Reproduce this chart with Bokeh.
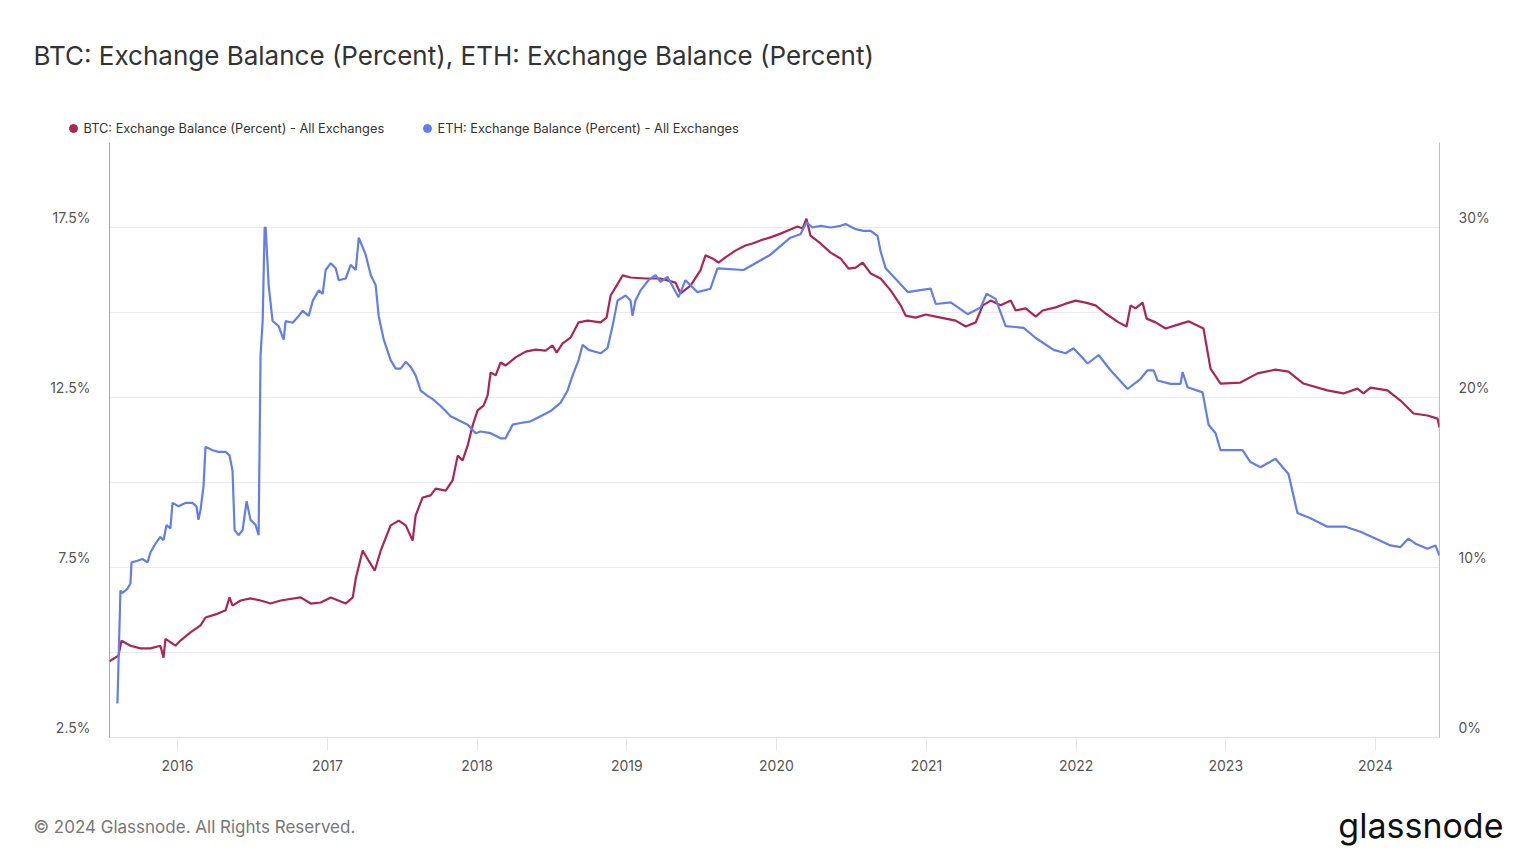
import pandas as pd
from bokeh.plotting import figure
from bokeh.layouts import column
from bokeh.models import (Range1d, LinearAxis, FixedTicker, PrintfTickFormatter,
                          DatetimeTickFormatter, Label, ColumnDataSource)
from bokeh.embed import file_html
from bokeh.resources import INLINE

# ---------------- data ----------------
btc_year = [2015.546, 2015.606, 2015.626, 2015.686, 2015.753, 2015.820, 2015.886, 2015.907, 2015.920, 2015.987,
            2016.020, 2016.087, 2016.154, 2016.187, 2016.254, 2016.321, 2016.347, 2016.367, 2016.421, 2016.487,
            2016.554, 2016.621, 2016.688, 2016.821, 2016.888, 2016.955, 2017.022, 2017.122, 2017.169, 2017.189,
            2017.235, 2017.275, 2017.316, 2017.356, 2017.422, 2017.476, 2017.523, 2017.569, 2017.589, 2017.636,
            2017.689, 2017.723, 2017.790, 2017.836, 2017.870, 2017.903, 2017.937, 2017.970, 2018.003, 2018.043,
            2018.070, 2018.090, 2018.124, 2018.157, 2018.190, 2018.257, 2018.324, 2018.391, 2018.457, 2018.504,
            2018.531, 2018.571, 2018.624, 2018.678, 2018.738, 2018.825, 2018.865, 2018.892, 2018.932, 2018.972,
            2019.025, 2019.125, 2019.225, 2019.326, 2019.359, 2019.426, 2019.492, 2019.526, 2019.573, 2019.613,
            2019.659, 2019.726, 2019.793, 2019.840, 2019.893, 2019.960, 2020.027, 2020.093, 2020.140, 2020.174,
            2020.200, 2020.227, 2020.294, 2020.361, 2020.427, 2020.481, 2020.528, 2020.574, 2020.628, 2020.694,
            2020.761, 2020.828, 2020.861, 2020.928, 2020.995, 2021.062, 2021.129, 2021.195, 2021.262, 2021.329,
            2021.376, 2021.429, 2021.496, 2021.563, 2021.596, 2021.663, 2021.730, 2021.776, 2021.863, 2021.930,
            2021.997, 2022.063, 2022.130, 2022.197, 2022.284, 2022.337, 2022.364, 2022.397, 2022.444, 2022.471,
            2022.531, 2022.598, 2022.664, 2022.751, 2022.851, 2022.898, 2022.965, 2023.098, 2023.212, 2023.332,
            2023.419, 2023.519, 2023.679, 2023.786, 2023.880, 2023.920, 2023.967, 2024.080, 2024.167, 2024.254,
            2024.347, 2024.414, 2024.427]
btc_pct = [4.74, 4.91, 5.35, 5.20, 5.12, 5.12, 5.20, 4.85, 5.40, 5.20,
           5.35, 5.59, 5.80, 6.03, 6.12, 6.24, 6.62, 6.38, 6.53, 6.59,
           6.53, 6.44, 6.53, 6.62, 6.44, 6.47, 6.62, 6.44, 6.62, 7.18,
           8.00, 7.70, 7.41, 8.00, 8.74, 8.88, 8.74, 8.29, 9.03, 9.56,
           9.62, 9.82, 9.76, 10.06, 10.79, 10.65, 11.09, 11.68, 12.12, 12.26,
           12.56, 13.24, 13.15, 13.53, 13.44, 13.68, 13.85, 13.91, 13.88, 14.03,
           13.82, 14.09, 14.26, 14.71, 14.76, 14.71, 14.85, 15.50, 15.79, 16.09,
           16.03, 16.00, 16.00, 15.88, 15.56, 15.79, 16.24, 16.68, 16.59, 16.47,
           16.62, 16.82, 16.97, 17.03, 17.12, 17.21, 17.32, 17.44, 17.53, 17.47,
           17.76, 17.26, 17.03, 16.76, 16.59, 16.29, 16.32, 16.47, 16.15, 16.00,
           15.65, 15.21, 14.91, 14.85, 14.94, 14.88, 14.82, 14.76, 14.59, 14.71,
           15.21, 15.35, 15.21, 15.35, 15.06, 15.12, 14.88, 15.06, 15.15, 15.26,
           15.35, 15.29, 15.21, 14.97, 14.71, 14.59, 15.21, 15.12, 15.29, 14.82,
           14.71, 14.53, 14.62, 14.74, 14.53, 13.35, 12.91, 12.94, 13.21, 13.32,
           13.26, 12.91, 12.71, 12.62, 12.76, 12.62, 12.79, 12.71, 12.41, 12.03,
           11.97, 11.88, 11.62]

eth_year = [2015.599, 2015.619, 2015.633, 2015.666, 2015.686, 2015.693, 2015.733, 2015.766, 2015.800, 2015.820,
            2015.853, 2015.886, 2015.907, 2015.927, 2015.953, 2015.967, 2016.007, 2016.053, 2016.100, 2016.127,
            2016.140, 2016.154, 2016.174, 2016.187, 2016.234, 2016.274, 2016.321, 2016.347, 2016.367, 2016.381,
            2016.407, 2016.434, 2016.461, 2016.487, 2016.521, 2016.541, 2016.554, 2016.568, 2016.581, 2016.588,
            2016.608, 2016.634, 2016.674, 2016.708, 2016.721, 2016.768, 2016.808, 2016.835, 2016.875, 2016.902,
            2016.942, 2016.968, 2016.988, 2017.022, 2017.055, 2017.075, 2017.122, 2017.155, 2017.189, 2017.209,
            2017.255, 2017.289, 2017.322, 2017.342, 2017.376, 2017.422, 2017.456, 2017.489, 2017.523, 2017.556,
            2017.589, 2017.623, 2017.669, 2017.703, 2017.756, 2017.823, 2017.890, 2017.937, 2017.990, 2018.023,
            2018.090, 2018.157, 2018.190, 2018.237, 2018.290, 2018.357, 2018.424, 2018.491, 2018.558, 2018.604,
            2018.638, 2018.678, 2018.705, 2018.745, 2018.825, 2018.871, 2018.905, 2018.938, 2018.992, 2019.025,
            2019.038, 2019.058, 2019.092, 2019.145, 2019.192, 2019.225, 2019.272, 2019.346, 2019.392, 2019.472,
            2019.559, 2019.606, 2019.780, 2019.960, 2020.093, 2020.160, 2020.200, 2020.240, 2020.294, 2020.361,
            2020.427, 2020.461, 2020.528, 2020.581, 2020.628, 2020.674, 2020.694, 2020.728, 2020.781, 2020.875,
            2020.948, 2021.028, 2021.062, 2021.162, 2021.275, 2021.362, 2021.402, 2021.462, 2021.529, 2021.649,
            2021.730, 2021.850, 2021.930, 2021.983, 2022.077, 2022.150, 2022.230, 2022.344, 2022.431, 2022.477,
            2022.518, 2022.544, 2022.631, 2022.698, 2022.711, 2022.745, 2022.845, 2022.885, 2022.932, 2022.965,
            2023.112, 2023.165, 2023.232, 2023.332, 2023.419, 2023.479, 2023.566, 2023.679, 2023.800, 2023.900,
            2024.000, 2024.100, 2024.167, 2024.220, 2024.267, 2024.347, 2024.400, 2024.427]
eth_pct = [2.0, 8.65, 8.5, 8.76, 9.06, 10.3, 10.4, 10.5, 10.3, 10.9,
           11.4, 11.8, 11.6, 12.5, 12.3, 13.8, 13.6, 13.8, 13.8, 13.6,
           12.8, 13.4, 14.8, 17.1, 16.9, 16.8, 16.8, 16.6, 15.7, 12.2,
           11.9, 12.2, 13.9, 12.8, 12.5, 11.9, 22.5, 24.5, 30.0, 30.0,
           26.6, 24.5, 24.2, 23.4, 24.5, 24.4, 24.8, 25.1, 24.8, 25.7,
           26.3, 26.1, 27.5, 27.9, 27.6, 26.9, 27.0, 27.8, 27.5, 29.4,
           28.4, 27.2, 26.6, 24.8, 23.4, 22.2, 21.7, 21.7, 22.1, 21.8,
           21.3, 20.4, 20.1, 19.9, 19.5, 18.9, 18.6, 18.4, 17.9, 18.0,
           17.9, 17.6, 17.6, 18.4, 18.5, 18.6, 18.9, 19.2, 19.7, 20.4,
           21.3, 22.2, 23.1, 22.8, 22.6, 22.9, 24.2, 25.7, 26.0, 25.7,
           24.8, 25.7, 26.3, 26.9, 27.2, 26.8, 27.1, 25.9, 26.9, 26.2,
           26.4, 27.6, 27.5, 28.4, 29.4, 29.6, 30.3, 30.0, 30.1, 30.0,
           30.1, 30.2, 29.9, 29.8, 29.8, 29.5, 28.6, 27.6, 27.1, 26.2,
           26.3, 26.4, 25.5, 25.6, 24.9, 25.3, 26.1, 25.8, 24.2, 24.1,
           23.5, 22.8, 22.6, 22.9, 22.0, 22.5, 21.6, 20.5, 21.1, 21.6,
           21.6, 21.0, 20.8, 20.8, 21.5, 20.6, 20.3, 18.4, 17.9, 16.9,
           16.9, 16.2, 15.9, 16.4, 15.5, 13.2, 12.9, 12.4, 12.4, 12.1,
           11.7, 11.3, 11.2, 11.7, 11.4, 11.1, 11.3, 10.7]

year_ticks = [2016, 2017, 2018, 2019, 2020, 2021, 2022, 2023, 2024]
btc_ticks = [2.5, 7.5, 12.5, 17.5]
btc_grid = [2.5, 5.0, 7.5, 10.0, 12.5, 15.0, 17.5, 20.0]
eth_ticks = [0, 10, 20, 30]

title_text = "BTC: Exchange Balance (Percent), ETH: Exchange Balance (Percent)"
series_names = ["BTC: Exchange Balance (Percent) - All Exchanges",
                "ETH: Exchange Balance (Percent) - All Exchanges"]
footer_text = "\u00a9 2024 Glassnode. All Rights Reserved."
logo_text = "glassnode"

BTC_COLOR = "#ad2456"
ETH_COLOR = "#627eea"
FONT = "Inter"
W = 1536
HEAD_H, MAIN_H, FOOT_H = 136, 664, 64


def to_dt(d):
    y = int(d)
    start = pd.Timestamp(year=y, month=1, day=1)
    end = pd.Timestamp(year=y + 1, month=1, day=1)
    return start + (end - start) * (d - y)


def blank_fig(h):
    f = figure(width=W, height=h, output_backend="svg", toolbar_location=None,
               x_range=Range1d(0, W), y_range=Range1d(h, 0),
               x_axis_location=None, y_axis_location=None, frame_align=False,
               min_border_left=0, min_border_right=0, min_border_top=0, min_border_bottom=0)
    f.outline_line_color = None
    f.grid.visible = False
    f.background_fill_color = "white"
    f.border_fill_color = "white"
    return f


# ---------------- header: title + legend ----------------
head = blank_fig(HEAD_H)
head.add_layout(Label(x=33, y=55, text=title_text, text_font=FONT, text_font_size="26px",
                      text_color="#333333", text_baseline="middle", text_align="left"))
leg_x = [73, 427]
head.scatter(x=leg_x, y=[128, 128], marker="circle", size=8,
             fill_color=[BTC_COLOR, ETH_COLOR], line_color=[BTC_COLOR, ETH_COLOR])
for lx, name in zip(leg_x, series_names):
    head.add_layout(Label(x=lx + 10, y=128, text=name, text_font=FONT, text_font_size="12.8px",
                          text_color="#333333", text_baseline="middle", text_align="left"))

# ---------------- main chart ----------------
btc_src = ColumnDataSource(dict(x=[to_dt(v) for v in btc_year], y=btc_pct))
eth_src = ColumnDataSource(dict(x=[to_dt(v) for v in eth_year], y=eth_pct))
x_start = to_dt(min(btc_year[0], eth_year[0]))
x_end = to_dt(max(btc_year[-1], eth_year[-1]))

p = figure(width=W, height=MAIN_H, x_axis_type="datetime", output_backend="svg",
           toolbar_location=None, x_range=Range1d(x_start, x_end),
           y_range=Range1d(2.5, 20.0), frame_align=False,
           min_border_left=109, min_border_right=97, min_border_top=6, min_border_bottom=63)
p.extra_y_ranges = {"eth": Range1d(0, 35)}
p.background_fill_color = "white"
p.border_fill_color = "white"
p.outline_line_color = None

xa = p.xaxis[0]
xa.ticker = FixedTicker(ticks=[pd.Timestamp(year=y, month=1, day=1).value / 1e6 for y in year_ticks])
xa.formatter = DatetimeTickFormatter(years="%Y", months="%Y", days="%Y", hours="%Y")
xa.axis_line_color = "#e3e3e3"
xa.major_tick_line_color = "#e6e6e6"
xa.major_tick_out = 13
xa.major_tick_in = 0
xa.minor_tick_line_color = None
xa.major_label_standoff = 9
xa.major_label_text_font = FONT
xa.major_label_text_font_size = "14px"
xa.major_label_text_color = "#555555"

ya = p.yaxis[0]
ya.ticker = FixedTicker(ticks=btc_ticks)
ya.formatter = PrintfTickFormatter(format="%.1f%%\n ")
ya.axis_line_color = BTC_COLOR
ya.axis_line_alpha = 0.5
ya.major_tick_line_color = None
ya.minor_tick_line_color = None
ya.major_label_standoff = 13
ya.major_label_text_font = FONT
ya.major_label_text_font_size = "14px"
ya.major_label_text_color = "#555555"

ra = LinearAxis(y_range_name="eth", ticker=FixedTicker(ticks=eth_ticks),
                formatter=PrintfTickFormatter(format="%d%%\n "))
ra.axis_line_color = ETH_COLOR
ra.axis_line_alpha = 0.5
ra.major_tick_line_color = None
ra.minor_tick_line_color = None
ra.major_label_standoff = 13
ra.major_label_text_font = FONT
ra.major_label_text_font_size = "14px"
ra.major_label_text_color = "#555555"
p.add_layout(ra, "right")

p.xgrid.grid_line_color = None
p.ygrid.ticker = FixedTicker(ticks=btc_grid)
p.ygrid.grid_line_color = "#ebebeb"
p.ygrid.grid_line_width = 1

p.line("x", "y", source=btc_src, line_color=BTC_COLOR, line_width=2.2)
p.line("x", "y", source=eth_src, line_color=ETH_COLOR, line_width=2.2, y_range_name="eth")

# ---------------- footer ----------------
foot = blank_fig(FOOT_H)
foot.add_layout(Label(x=33, y=26, text=footer_text, text_font=FONT, text_font_size="17px",
                      text_color="#777777", text_baseline="middle", text_align="left"))
foot.add_layout(Label(x=1503, y=25, text=logo_text, text_font=FONT, text_font_size="34px",
                      text_color="#111111", text_baseline="middle", text_align="right"))

layout = column(head, p, foot, spacing=0)
open("out.html", "w").write(file_html(layout, INLINE))
